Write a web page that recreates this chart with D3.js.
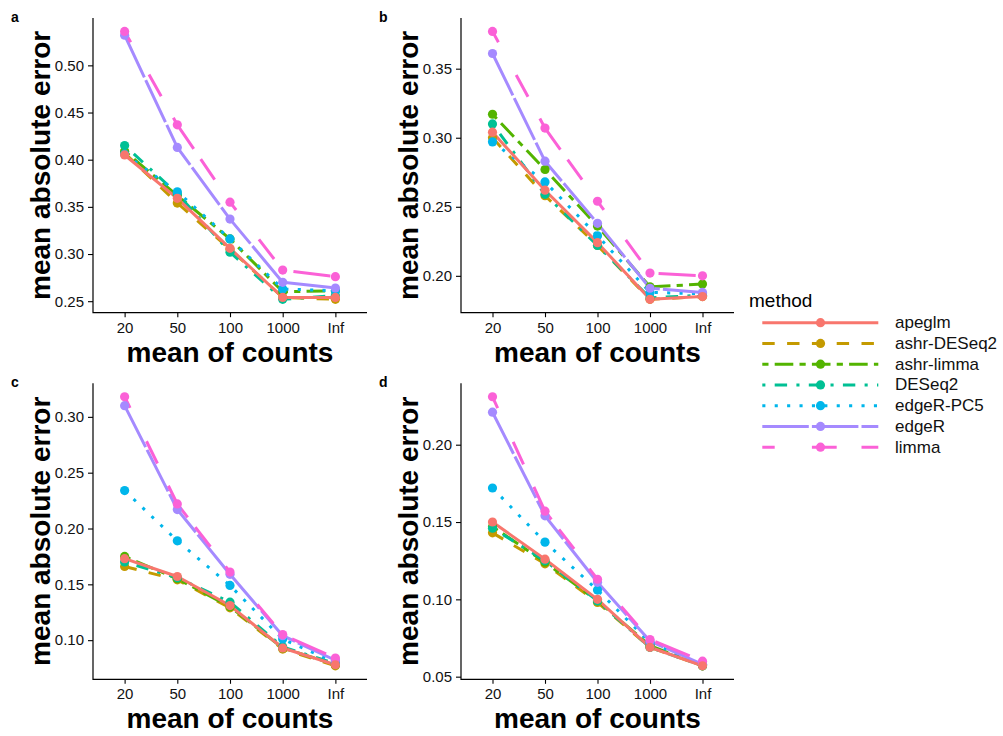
<!DOCTYPE html>
<html>
<head>
<meta charset="utf-8">
<script src="https://cdn.jsdelivr.net/npm/d3@7"></script>
<style>
  html, body { margin: 0; padding: 0; background: #fff; }
  svg { display: block; font-family: "Liberation Sans", Arial, Helvetica, sans-serif; }
</style>
</head>
<body>
<svg id="chart" width="1003" height="736"></svg>
<script>
// x categories: mean of counts
const countLevels = ["20", "50", "100", "1000", "Inf"];

// methods in legend order, with colours and dash patterns (in units of line width)
const methods = ["apeglm", "ashr-DESeq2", "ashr-limma", "DESeq2", "edgeR-PC5", "edgeR", "limma"];
const methodColors = ["#F8766D", "#C49A00", "#53B400", "#00C094", "#00B6EB", "#A58AFF", "#FB61D7"];
const methodDash = [[], [4, 4], [2, 2, 6, 2], [1, 3, 4, 3], [1, 3], [15, 1], [4, 12, 8, 8, 12, 4, 8, 8]];

// y tick labels for each panel
const ticksA = [0.25, 0.30, 0.35, 0.40, 0.45, 0.50];
const ticksB = [0.20, 0.25, 0.30, 0.35];
const ticksC = [0.10, 0.15, 0.20, 0.25, 0.30];
const ticksD = [0.05, 0.10, 0.15, 0.20];

// mean absolute error, one row per method (legend order), one value per count level
const panelA = [
  [0.405, 0.359, 0.306, 0.254, 0.254],
  [0.407, 0.354, 0.305, 0.254, 0.252],
  [0.409, 0.362, 0.316, 0.260, 0.261],
  [0.415, 0.364, 0.302, 0.252, 0.256],
  [0.406, 0.366, 0.316, 0.263, 0.261],
  [0.532, 0.413, 0.337, 0.270, 0.264],
  [0.536, 0.437, 0.355, 0.283, 0.276]
];
const panelB = [
  [0.304, 0.262, 0.224, 0.183, 0.185],
  [0.300, 0.258, 0.222, 0.183, 0.185],
  [0.317, 0.277, 0.236, 0.192, 0.194],
  [0.310, 0.259, 0.222, 0.184, 0.186],
  [0.297, 0.268, 0.229, 0.188, 0.187],
  [0.361, 0.283, 0.238, 0.191, 0.188],
  [0.377, 0.307, 0.254, 0.202, 0.200]
];
const panelC = [
  [0.173, 0.157, 0.131, 0.093, 0.078],
  [0.166, 0.154, 0.129, 0.092, 0.077],
  [0.175, 0.155, 0.130, 0.093, 0.078],
  [0.170, 0.156, 0.134, 0.094, 0.079],
  [0.234, 0.189, 0.149, 0.101, 0.080],
  [0.310, 0.217, 0.159, 0.104, 0.082],
  [0.318, 0.222, 0.161, 0.105, 0.084]
];
const panelD = [
  [0.150, 0.126, 0.100, 0.069, 0.057],
  [0.143, 0.123, 0.098, 0.069, 0.057],
  [0.147, 0.124, 0.099, 0.070, 0.057],
  [0.146, 0.125, 0.099, 0.069, 0.057],
  [0.172, 0.137, 0.106, 0.072, 0.058],
  [0.221, 0.154, 0.111, 0.073, 0.058],
  [0.231, 0.157, 0.113, 0.074, 0.060]
];

const svg = d3.select("#chart");
const LW = 3.0;       // line width
const DASH_UNIT = 3.1;
const PT_R = 4.6;
const dashArray = i => methodDash[i].length ? methodDash[i].map(d => d * DASH_UNIT).join(",") : null;

// drawing order: apeglm on top
const drawOrder = [1, 2, 3, 4, 5, 6, 0];

const panels = [
  { letter: "a", data: panelA, ticks: ticksA, x0: 93,  x1: 367, y0: 18,    y1: 312.7 },
  { letter: "b", data: panelB, ticks: ticksB, x0: 461, x1: 734, y0: 18,    y1: 312.7 },
  { letter: "c", data: panelC, ticks: ticksC, x0: 93,  x1: 367, y0: 383.3, y1: 679.3 },
  { letter: "d", data: panelD, ticks: ticksD, x0: 461, x1: 734, y0: 383.3, y1: 679.3 }
];

panels.forEach(p => {
  const g = svg.append("g");
  const x = d3.scalePoint().domain(countLevels).range([p.x0, p.x1]).padding(0.6);
  const all = p.data.flat();
  const lo = d3.min(all), hi = d3.max(all), pad = (hi - lo) * 0.05;
  const y = d3.scaleLinear().domain([lo - pad, hi + pad]).range([p.y1, p.y0]);

  // lines
  const line = d3.line().x((d, j) => x(countLevels[j])).y(d => y(d));
  drawOrder.forEach(i => {
    g.append("path")
      .attr("d", line(p.data[i]))
      .attr("fill", "none")
      .attr("stroke", methodColors[i])
      .attr("stroke-width", LW)
      .attr("stroke-linecap", "butt")
      .attr("stroke-linejoin", "round")
      .attr("stroke-dasharray", dashArray(i));
  });
  // points
  drawOrder.forEach(i => {
    g.selectAll(null).data(p.data[i]).enter().append("circle")
      .attr("cx", (d, j) => x(countLevels[j]))
      .attr("cy", d => y(d))
      .attr("r", PT_R)
      .attr("fill", methodColors[i]);
  });

  // axes
  const yAxis = d3.axisLeft(y).tickValues(p.ticks).tickFormat(d3.format(".2f")).tickSize(5).tickPadding(4);
  const ya = g.append("g").attr("transform", `translate(${p.x0},0)`).call(yAxis);
  const xAxis = d3.axisBottom(x).tickSize(4.5).tickPadding(5);
  const xa = g.append("g").attr("transform", `translate(0,${p.y1})`).call(xAxis);
  [ya, xa].forEach(a => {
    a.select(".domain").remove();
    a.selectAll(".tick line").attr("stroke", "#000").attr("stroke-width", 1.1);
    a.selectAll(".tick text").attr("fill", "#111").style("font-size", "15px");
  });
  // axis lines (L shape)
  g.append("path")
    .attr("d", `M${p.x0},${p.y0}V${p.y1}H${p.x1}`)
    .attr("fill", "none").attr("stroke", "#000").attr("stroke-width", 1.2);

  // axis titles
  g.append("text")
    .attr("x", (p.x0 + p.x1) / 2).attr("y", p.y1 + 49)
    .attr("text-anchor", "middle")
    .style("font-size", "28px").style("font-weight", "bold")
    .text("mean of counts");
  g.append("text")
    .attr("transform", `translate(${p.x0 - 43},${(p.y0 + p.y1) / 2}) rotate(-90)`)
    .attr("text-anchor", "middle")
    .style("font-size", "28px").style("font-weight", "bold")
    .text("mean absolute error");

  // panel letter
  g.append("text")
    .attr("x", p.x0 - 82).attr("y", p.y0 + 4)
    .style("font-size", "14px").style("font-weight", "bold")
    .text(p.letter);
});

// legend
const lg = svg.append("g");
lg.append("text").attr("x", 749).attr("y", 307).style("font-size", "19px").text("method");
methods.forEach((m, i) => {
  const cy = 322.7 + i * 20.75;
  lg.append("line")
    .attr("x1", 762.3).attr("x2", 878.3).attr("y1", cy).attr("y2", cy)
    .attr("stroke", methodColors[i]).attr("stroke-width", LW)
    .attr("stroke-dasharray", dashArray(i));
  lg.append("circle").attr("cx", 820.5).attr("cy", cy).attr("r", PT_R).attr("fill", methodColors[i]);
  lg.append("text").attr("x", 895).attr("y", cy + 5.5).style("font-size", "17px").attr("fill", "#111").text(m);
});
</script>
</body>
</html>
